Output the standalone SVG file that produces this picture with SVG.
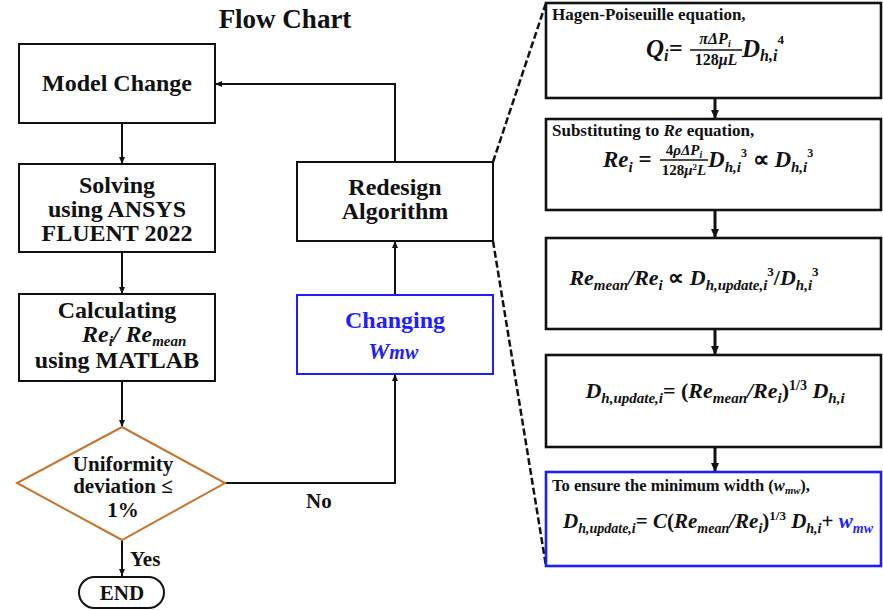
<svg xmlns="http://www.w3.org/2000/svg" width="883" height="610" viewBox="0 0 883 610">
<style>
.t{font-family:"Liberation Serif","Times New Roman",serif;font-weight:bold;fill:#111}
.m{font-family:"Liberation Serif","Times New Roman",serif;font-weight:bold;font-style:italic;fill:#111}
.u{font-style:normal}
.box{fill:#fff;stroke:#111;stroke-width:2}
.rbox{fill:#fff;stroke:#111;stroke-width:2.6}
.blue{stroke:#1e1eff}
.bt{fill:#1e1eff}
.c{fill:none;stroke:#111;stroke-width:2}
.ct{fill:none;stroke:#111;stroke-width:3}
.d{fill:none;stroke:#111;stroke-width:2.5;stroke-dasharray:7 3}
</style>
<defs>
<marker id="a" markerUnits="userSpaceOnUse" markerWidth="8" markerHeight="8" refX="7" refY="4" orient="auto"><path d="M0,1 L7,4 L0,7 Z" fill="#111"/></marker>
<marker id="b" markerUnits="userSpaceOnUse" markerWidth="10" markerHeight="10" refX="9" refY="5" orient="auto"><path d="M0,1 L9,5 L0,9 Z" fill="#111"/></marker>
</defs>
<text class="t" x="285" y="28" font-size="27" text-anchor="middle">Flow Chart</text>
<g id="connectors">
<path class="c" d="M122,123 V164" marker-end="url(#a)"/>
<path class="c" d="M122,252 V294" marker-end="url(#a)"/>
<path class="c" d="M122,381 V427" marker-end="url(#a)"/>
<path class="c" d="M122,540 V576" marker-end="url(#a)"/>
<path class="c" d="M225,483 H395 V374" marker-end="url(#a)"/>
<path class="c" d="M395,295 V241" marker-end="url(#a)"/>
<path class="c" d="M395,162 V84 H215" marker-end="url(#a)"/>
<path class="ct" d="M715,98 V119" marker-end="url(#b)"/>
<path class="ct" d="M715,210 V238" marker-end="url(#b)"/>
<path class="ct" d="M715,329 V355" marker-end="url(#b)"/>
<path class="ct" d="M715,447 V472" marker-end="url(#b)"/>
<path class="d" d="M493,162 L546,3"/>
<path class="d" d="M493,241 L546,566"/>
<text class="t" x="306" y="508" font-size="21">No</text>
<text class="t" x="130" y="566" font-size="21">Yes</text>
</g>
<g id="model">
<rect class="box" x="19" y="44" width="196" height="79"/>
<text class="t" x="117" y="91" font-size="24" text-anchor="middle">Model Change</text>
</g>
<g id="solving">
<rect class="box" x="19" y="164" width="196" height="88"/>
<text class="t" x="117" y="193" font-size="24" text-anchor="middle">Solving</text>
<text class="t" x="117" y="217" font-size="24" text-anchor="middle">using ANSYS</text>
<text class="t" x="117" y="241" font-size="24" text-anchor="middle">FLUENT 2022</text>
</g>
<g id="calc">
<rect class="box" x="19" y="294" width="196" height="87"/>
<text class="t" x="117" y="318" font-size="24" text-anchor="middle">Calculating</text>
<text class="m" x="82" y="342" font-size="24">Re<tspan font-size="15" dy="4">i</tspan><tspan dy="-4">/ Re</tspan><tspan font-size="15" dy="4">mean</tspan></text>
<text class="t" x="117" y="368" font-size="24" text-anchor="middle">using MATLAB</text>
</g>
<g id="decision">
<polygon points="122,427 225,483 122,540 17,483" fill="#fff" stroke="#c8742f" stroke-width="2"/>
<text class="t" x="123" y="471" font-size="21" text-anchor="middle">Uniformity</text>
<text class="t" x="123" y="493" font-size="21" text-anchor="middle">deviation ≤</text>
<text class="t" x="123" y="517" font-size="21" text-anchor="middle">1%</text>
</g>
<g id="end">
<rect class="box" x="79" y="577" width="85" height="31" rx="15.5"/>
<text class="t" x="122" y="600" font-size="21" text-anchor="middle">END</text>
</g>
<g id="redesign">
<rect class="box" x="297" y="162" width="196" height="79"/>
<text class="t" x="395" y="195" font-size="24" text-anchor="middle">Redesign</text>
<text class="t" x="395" y="219" font-size="24" text-anchor="middle">Algorithm</text>
</g>
<g id="changing">
<rect class="box blue" x="297" y="295" width="196" height="79"/>
<text class="t bt" x="395" y="328" font-size="24" text-anchor="middle">Changing</text>
<text class="m bt" x="368" y="359" font-size="24">W<tspan font-size="20">mw</tspan></text>
</g>
<g id="eq1">
<rect class="rbox" x="546" y="3" width="335" height="95"/>
<text class="t" x="552" y="20" font-size="17">Hagen-Poiseuille equation,</text>
<text class="m" x="646" y="57" font-size="25">Q</text>
<text class="m" x="664" y="61" font-size="16">i</text>
<text class="t" x="669" y="56" font-size="24">=</text>
<text class="m" x="715" y="44" font-size="16" text-anchor="middle">πΔP<tspan font-size="10" dy="3">i</tspan></text>
<line x1="690" y1="50" x2="742" y2="50" stroke="#111" stroke-width="1.4"/>
<text class="t" x="716" y="65" font-size="16" text-anchor="middle">128<tspan font-style="italic">μL</tspan></text>
<text class="m" x="742" y="57" font-size="25">D<tspan font-size="16" dy="4">h,i</tspan><tspan class="u" font-size="13" dy="-17">4</tspan></text>
</g>
<g id="eq2">
<rect class="rbox" x="546" y="119" width="335" height="91"/>
<text class="t" x="552" y="136" font-size="17">Substituting to <tspan font-style="italic">Re</tspan> equation,</text>
<text class="m" x="603" y="167" font-size="23">Re<tspan font-size="15" dy="5">i</tspan><tspan class="u" dy="-5"> =</tspan></text>
<text class="m" x="684" y="155" font-size="15" text-anchor="middle"><tspan class="u">4</tspan>ρΔP<tspan font-size="10" dy="3">i</tspan></text>
<line x1="660" y1="160" x2="708" y2="160" stroke="#111" stroke-width="1.3"/>
<text class="t" x="684" y="175" font-size="15" text-anchor="middle">128<tspan font-style="italic">μ</tspan><tspan font-size="9" dy="-5">2</tspan><tspan font-style="italic" dy="5">L</tspan></text>
<text class="m" x="708" y="167" font-size="23">D<tspan font-size="15" dy="5">h,i</tspan><tspan class="u" font-size="12" dy="-15">3</tspan><tspan class="u" dy="10"> ∝ </tspan>D<tspan font-size="15" dy="5">h,i</tspan><tspan class="u" font-size="12" dy="-15">3</tspan></text>
</g>
<g id="eq3">
<rect class="rbox" x="546" y="238" width="335" height="91"/>
<text class="m" x="694" y="285" font-size="22" text-anchor="middle">Re<tspan font-size="15" dy="5">mean</tspan><tspan dy="-5">/Re</tspan><tspan font-size="15" dy="5">i</tspan><tspan class="u" dy="-5"> ∝ </tspan>D<tspan font-size="15" dy="5">h,update,i</tspan><tspan class="u" font-size="13" dy="-14">3</tspan><tspan class="u" dy="9">/</tspan>D<tspan font-size="15" dy="5">h,i</tspan><tspan class="u" font-size="13" dy="-14">3</tspan></text>
</g>
<g id="eq4">
<rect class="rbox" x="546" y="355" width="335" height="92"/>
<text class="m" x="715" y="398" font-size="22" text-anchor="middle">D<tspan font-size="15" dy="5">h,update,i</tspan><tspan class="u" dy="-5">= (</tspan>Re<tspan font-size="15" dy="5">mean</tspan><tspan dy="-5">/Re</tspan><tspan font-size="15" dy="5">i</tspan><tspan class="u" dy="-5">)</tspan><tspan class="u" font-size="14" dy="-8">1/3</tspan><tspan dy="8"> D</tspan><tspan font-size="15" dy="5">h,i</tspan></text>
</g>
<g id="eq5">
<rect class="rbox blue" x="546" y="472" width="335" height="94"/>
<text class="t" x="552" y="491" font-size="17" textLength="258" lengthAdjust="spacingAndGlyphs">To ensure the minimum width (<tspan font-style="italic">w</tspan><tspan font-style="italic" font-size="11" dy="3">mw</tspan><tspan dy="-3">),</tspan></text>
<text class="m" x="718" y="528" font-size="21" text-anchor="middle">D<tspan font-size="14" dy="5">h,update,i</tspan><tspan class="u" dy="-5">=</tspan> C<tspan class="u">(</tspan>Re<tspan font-size="14" dy="5">mean</tspan><tspan dy="-5">/Re</tspan><tspan font-size="14" dy="5">i</tspan><tspan class="u" dy="-5">)</tspan><tspan class="u" font-size="13" dy="-8">1/3</tspan><tspan dy="8"> D</tspan><tspan font-size="14" dy="5">h,i</tspan><tspan class="u" dy="-5">+ </tspan><tspan class="bt">w</tspan><tspan class="bt" font-size="14" dy="5">mw</tspan></text>
</g>
</svg>
